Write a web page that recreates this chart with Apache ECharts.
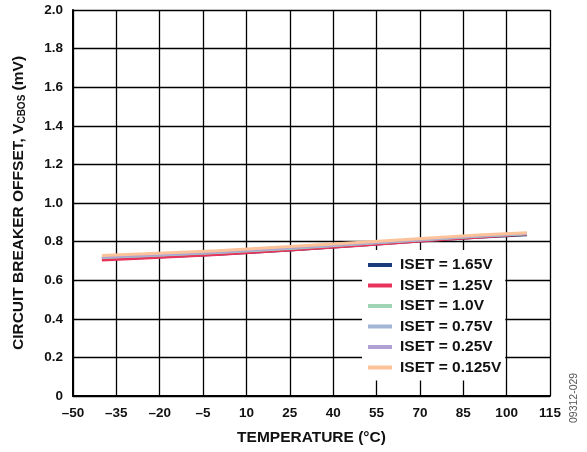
<!DOCTYPE html>
<html>
<head>
<meta charset="utf-8">
<script src="https://cdn.jsdelivr.net/npm/echarts@6/dist/echarts.min.js"></script>
<style>html,body{margin:0;padding:0;background:#fff}#c{width:587px;height:452px}</style>
</head>
<body>
<div id="c"></div>
<script>
var temps = [-40, -25, 0, 25, 50, 75, 90, 107];
var seriesNames = ['ISET = 1.65V', 'ISET = 1.25V', 'ISET = 1.0V', 'ISET = 0.75V', 'ISET = 0.25V', 'ISET = 0.125V'];
var colors = ['#1b3a7a', '#e8345a', '#9fd4b4', '#a3b5d4', '#b0a0d4', '#fcc29a'];
var v165 = [0.708, 0.718, 0.735, 0.757, 0.782, 0.808, 0.822, 0.836];
var v125 = [0.705, 0.715, 0.733, 0.756, 0.781, 0.808, 0.823, 0.840];
var v100 = [0.716, 0.725, 0.742, 0.763, 0.787, 0.812, 0.826, 0.840];
var v075 = [0.718, 0.727, 0.744, 0.765, 0.789, 0.814, 0.828, 0.842];
var v025 = [0.722, 0.731, 0.748, 0.769, 0.792, 0.816, 0.830, 0.843];
var v0125 = [0.728, 0.737, 0.753, 0.774, 0.797, 0.820, 0.834, 0.846];
var allValues = [v165, v125, v100, v075, v025, v0125];
var widths = [3, 3, 2.5, 2.5, 2.5, 3];

var font = 'Liberation Sans, Arial, sans-serif';
var series = allValues.map(function (vals, i) {
  return {
    name: seriesNames[i],
    type: 'line',
    showSymbol: false,
    symbol: 'none',
    data: temps.map(function (t, j) { return [t, vals[j]]; }),
    lineStyle: { color: colors[i], width: widths[i] },
    itemStyle: { color: colors[i] },
    z: 2 + i
  };
});

var chart = echarts.init(document.getElementById('c'));
chart.setOption({
  animation: false,
  backgroundColor: '#fff',
  grid: { left: 73, right: 37, top: 10, bottom: 56 },
  xAxis: {
    type: 'value', min: -50, max: 115, interval: 15,
    name: 'TEMPERATURE (°C)', nameLocation: 'middle', nameGap: 34,
    nameTextStyle: { fontFamily: font, fontWeight: 'bold', fontSize: 15.5, color: '#111' },
    axisLine: { show: true, onZero: false, lineStyle: { color: '#000', width: 2 } },
    axisTick: { show: false },
    axisLabel: { fontFamily: font, fontWeight: 'bold', fontSize: 13.5, color: '#111', margin: 10,
      formatter: function (v) { return String(v).replace('-', '\u2013'); } },
    splitLine: { show: true, lineStyle: { color: '#000', width: 1.3 } }
  },
  yAxis: {
    type: 'value', min: 0, max: 2, interval: 0.2,
    name: '{n|CIRCUIT BREAKER OFFSET, V}{s|CBOS}{n| (mV)}', nameLocation: 'middle', nameGap: 46,
    nameTextStyle: { rich: {
      n: { fontFamily: font, fontWeight: 'bold', fontSize: 15.5, color: '#111' },
      s: { fontFamily: font, fontWeight: 'bold', fontSize: 10, color: '#111', verticalAlign: 'bottom', padding: [6, 0, 0, 0] }
    } },
    axisLine: { show: true, onZero: false, lineStyle: { color: '#000', width: 2 } },
    axisTick: { show: false },
    axisLabel: { fontFamily: font, fontWeight: 'bold', fontSize: 13.5, color: '#111', margin: 10,
      formatter: function (v) { return v === 0 ? '0' : v.toFixed(1); } },
    splitLine: { show: true, lineStyle: { color: '#000', width: 1.3 } }
  },
  legend: {
    orient: 'vertical', left: 362, top: 250,
    backgroundColor: '#fff', padding: [7, 4, 5, 6],
    itemWidth: 24, itemHeight: 4, itemGap: 4.5, icon: 'rect',
    textStyle: { fontFamily: font, fontWeight: 'bold', fontSize: 15.5, color: '#111', lineHeight: 15.5, padding: [0, 0, 0, 3] },
    data: seriesNames
  },
  graphic: [{
    type: 'text', x: 574, y: 423, rotation: Math.PI / 2,
    style: { text: '09312-029', fontFamily: font, fontSize: 10.5, fill: '#555', textAlign: 'left', textVerticalAlign: 'middle' }
  }],
  series: series
});
</script>
</body>
</html>
